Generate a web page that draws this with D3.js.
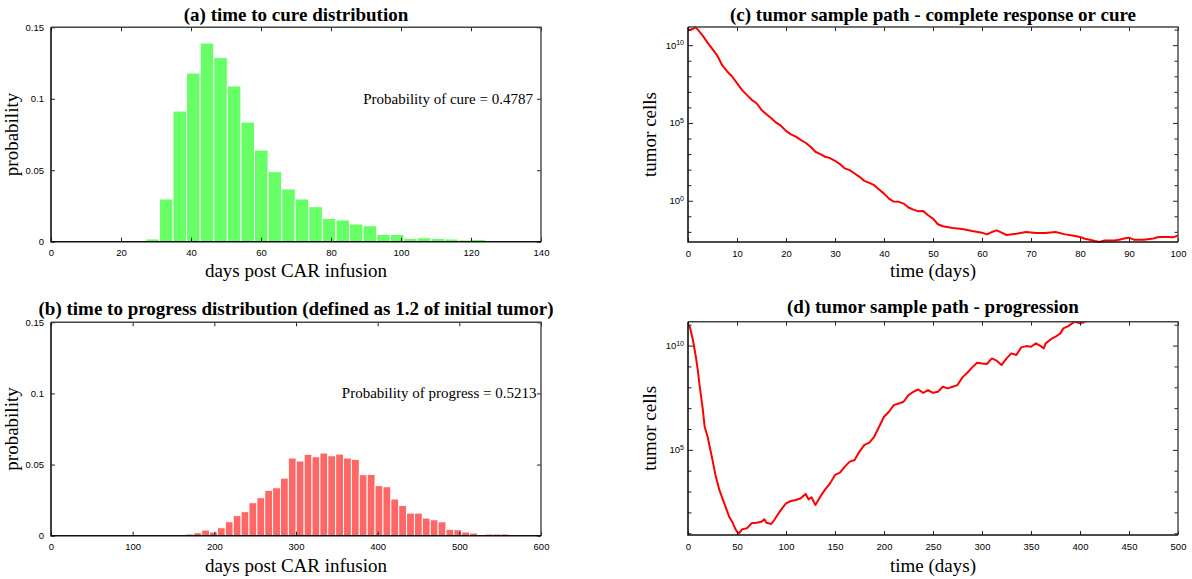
<!DOCTYPE html>
<html>
<head>
<meta charset="utf-8">
<script src="https://cdn.jsdelivr.net/npm/d3@7"></script>
<style>
  body { margin: 0; background: #fff; }
  .serif { font-family: "Liberation Serif", "Times New Roman", serif; fill: #000; }
  .tick text { font-family: "Liberation Sans", Arial, sans-serif; font-size: 9.5px; fill: #000; }
</style>
</head>
<body>
<svg id="chart" width="1192" height="579"></svg>
<script>
// ---- data ----
// (a) time to cure histogram
const cureBinStart = 27.1;
const cureBinWidth = 3.88;
const cureProb = [0.0019, 0.0299, 0.0914, 0.118, 0.139, 0.1288, 0.109, 0.0837, 0.0641, 0.049,
  0.0369, 0.0299, 0.0245, 0.0163, 0.0152, 0.0124, 0.0112, 0.0051, 0.0051, 0.0023,
  0.0028, 0.0023, 0.0019, 0.0012, 0.0016, 0.0005, 0.0005];

// (b) time to progress histogram
const progBinStart = 165.2;
const progBinWidth = 9.65;
const progProb = [0.0012, 0.0021, 0.004, 0.0026, 0.0056, 0.0098, 0.0141, 0.0169, 0.0232, 0.0267,
  0.0319, 0.0337, 0.0405, 0.0546, 0.0525, 0.0572, 0.0555, 0.0581, 0.0562, 0.0574,
  0.0546, 0.0537, 0.0429, 0.0431, 0.0352, 0.0344, 0.0258, 0.0213, 0.0159, 0.0159,
  0.0124, 0.0112, 0.0098, 0.0045, 0.0042, 0.0026, 0.0019, 0, 0.0012, 0.0012, 0.0012];

// (c) sample path, complete response (log10 of tumor cells)
const pathCDays = [0, 1, 1.5, 2, 3, 4, 5, 6, 7, 8, 9, 10, 11, 12, 13, 14, 15, 16, 17, 18, 19, 20,
  21, 22, 23, 24, 25, 26, 27, 28, 29, 30, 31, 32, 33, 34, 35, 36, 37, 38, 39, 40, 41, 42, 43, 44,
  45, 46, 47, 48, 49, 50, 51, 52, 54, 56, 58, 60, 61, 62, 63, 64, 65, 67, 69, 71, 73, 75, 77, 79,
  80, 81, 82, 83, 84, 85, 87, 88, 89, 90, 91, 93, 95, 96, 98, 99, 100];
const pathCLog10 = [10.99, 11.07, 11.2, 11.03, 10.65, 10.2, 9.78, 9.35, 8.73, 8.34, 8.02, 7.59,
  7.16, 6.84, 6.52, 6.3, 5.87, 5.59, 5.33, 5.05, 4.84, 4.52, 4.3, 4.15, 3.94, 3.76, 3.5, 3.18,
  3.03, 2.86, 2.77, 2.6, 2.39, 2.11, 2.0, 1.78, 1.57, 1.31, 1.18, 1.03, 0.75, 0.49, 0.17, -0.02,
  -0.04, -0.15, -0.4, -0.54, -0.65, -0.62, -0.9, -1.12, -1.48, -1.61, -1.72, -1.78, -1.91, -2.02,
  -2.13, -1.98, -1.87, -2.02, -2.17, -2.09, -1.98, -2.04, -2.04, -1.98, -2.13, -2.24, -2.3, -2.41,
  -2.47, -2.56, -2.62, -2.52, -2.52, -2.47, -2.39, -2.34, -2.47, -2.47, -2.39, -2.3, -2.3, -2.32, -2.19];

// (d) sample path, progression (log10 of tumor cells)
const pathDDays = [0, 2, 5, 8, 10, 12, 15, 17, 20, 25, 28, 32, 37, 42, 45, 48, 50, 52, 55, 60, 65,
  70, 75, 78, 80, 85, 88, 92, 96, 100, 105, 110, 115, 120, 123, 126, 130, 135, 140, 145, 150, 155,
  160, 165, 170, 175, 180, 185, 190, 195, 200, 205, 210, 215, 220, 225, 230, 235, 240, 245, 250,
  255, 260, 265, 270, 275, 280, 285, 290, 295, 300, 305, 310, 315, 320, 325, 330, 335, 340, 345,
  350, 355, 360, 363, 365, 370, 375, 380, 383, 388, 392, 395, 400, 402, 405];
const pathDLog10 = [11.04, 10.9, 10.29, 9.49, 8.85, 8.05, 7.01, 6.13, 5.65, 4.54, 3.82, 3.1, 2.46,
  1.82, 1.58, 1.26, 1.1, 1.02, 1.21, 1.26, 1.5, 1.53, 1.58, 1.69, 1.53, 1.47, 1.66, 1.95, 2.22,
  2.46, 2.57, 2.62, 2.7, 2.91, 2.65, 2.75, 2.38, 2.78, 3.13, 3.42, 3.82, 3.93, 4.22, 4.46, 4.54,
  4.94, 5.26, 5.37, 5.65, 6.13, 6.61, 6.85, 7.17, 7.25, 7.33, 7.65, 7.81, 7.92, 7.76, 7.89, 7.76,
  7.81, 8.05, 7.97, 8.05, 8.13, 8.5, 8.72, 8.98, 9.2, 9.17, 9.14, 9.41, 9.3, 9.09, 9.41, 9.65,
  9.57, 9.94, 10.0, 9.97, 10.13, 10.0, 9.89, 10.13, 10.32, 10.45, 10.61, 10.85, 10.96, 11.09,
  11.17, 11.09, 11.12, 11.15];

const cureNote = 'Probability of cure = 0.4787';
const progNote = 'Probability of progress = 0.5213';

// ---- drawing ----
const svg = d3.select('#chart');
const green = '#66ff66';
const red = '#ff6666';

function frame(g, p) {
  // grey top/right, black left/bottom
  g.append('path')
    .attr('d', `M${p.x0},${p.y0}H${p.x1}V${p.y1}`)
    .attr('fill', 'none').attr('stroke', '#444').attr('stroke-width', 1.4);
  g.append('path')
    .attr('d', `M${p.x0},${p.y0}V${p.y1}H${p.x1}`)
    .attr('fill', 'none').attr('stroke', '#111').attr('stroke-width', 1.6);
}

function xAxes(g, p, x, ticks) {
  g.append('g')
    .attr('transform', `translate(0,${p.y1})`)
    .call(d3.axisBottom(x).tickValues(ticks).tickSizeInner(-4).tickSizeOuter(0).tickPadding(8).tickFormat(d3.format('d')))
    .call(a => a.select('.domain').remove())
    .attr('font-size', null).attr('font-family', null);
  g.append('g')
    .attr('transform', `translate(0,${p.y0})`)
    .call(d3.axisTop(x).tickValues(ticks).tickSizeInner(-4).tickSizeOuter(0).tickFormat(''))
    .call(a => a.select('.domain').remove());
}

function titles(g, p, title, titleY, xLabel, xLabelY, yLabel, yLabelX) {
  const cx = (p.x0 + p.x1) / 2;
  g.append('text').attr('class', 'serif')
    .attr('x', cx).attr('y', titleY)
    .attr('text-anchor', 'middle')
    .style('font-size', '19px').style('font-weight', 'bold')
    .text(title);
  g.append('text').attr('class', 'serif')
    .attr('x', cx).attr('y', xLabelY)
    .attr('text-anchor', 'middle')
    .style('font-size', '19px')
    .text(xLabel);
  g.append('text').attr('class', 'serif')
    .attr('transform', `translate(${yLabelX},${(p.y0 + p.y1) / 2}) rotate(-90)`)
    .attr('text-anchor', 'middle')
    .style('font-size', '19px')
    .text(yLabel);
}

function histPanel(p, opt) {
  const g = svg.append('g');
  const x = d3.scaleLinear().domain(opt.xDomain).range([p.x0, p.x1]);
  const y = d3.scaleLinear().domain([0, 0.15]).range([p.y1, p.y0]);

  g.append('g').selectAll('rect')
    .data(opt.values)
    .join('rect')
    .attr('x', (d, i) => x(opt.start + i * opt.width))
    .attr('width', (d, i) => x(opt.start + (i + 1) * opt.width) - x(opt.start + i * opt.width))
    .attr('y', d => y(d))
    .attr('height', d => y(0) - y(d))
    .attr('fill', opt.color)
    .attr('stroke', '#fff')
    .attr('stroke-width', 1);

  xAxes(g, p, x, opt.xTicks);
  const yTicks = [0, 0.05, 0.1, 0.15];
  g.append('g')
    .attr('transform', `translate(${p.x0},0)`)
    .call(d3.axisLeft(y).tickValues(yTicks).tickSizeInner(-4).tickSizeOuter(0).tickPadding(7).tickFormat(d => String(d)))
    .call(a => a.select('.domain').remove())
    .attr('font-size', null).attr('font-family', null);
  g.append('g')
    .attr('transform', `translate(${p.x1},0)`)
    .call(d3.axisRight(y).tickValues(yTicks).tickSizeInner(-4).tickSizeOuter(0).tickFormat(''))
    .call(a => a.select('.domain').remove());

  frame(g, p);

  g.append('text').attr('class', 'serif')
    .attr('x', x(opt.noteX)).attr('y', y(0.1))
    .attr('dy', '0.32em')
    .attr('text-anchor', 'end')
    .style('font-size', '15px')
    .text(opt.note);

  titles(g, p, opt.title, opt.titleY, 'days post CAR infusion', opt.xLabelY, 'probability', 18);
  g.selectAll('.tick line').attr('stroke', '#222');
}

function pathPanel(p, opt) {
  const g = svg.append('g');
  const x = d3.scaleLinear().domain(opt.xDomain).range([p.x0, p.x1]);
  const y = d3.scaleLog().domain(opt.yDomain.map(e => Math.pow(10, e))).range([p.y1, p.y0]);

  const clipId = 'clip-' + opt.id;
  g.append('clipPath').attr('id', clipId)
    .append('rect')
    .attr('x', p.x0).attr('y', p.y0 - 1)
    .attr('width', p.x1 - p.x0).attr('height', p.y1 - p.y0 + 2);

  const pts = opt.days.map((t, i) => ({ t: t, v: Math.pow(10, opt.logs[i]) }));
  g.append('path')
    .datum(pts)
    .attr('clip-path', `url(#${clipId})`)
    .attr('fill', 'none')
    .attr('stroke', '#ff0000')
    .attr('stroke-width', 2)
    .attr('stroke-linejoin', 'round')
    .attr('d', d3.line().x(d => x(d.t)).y(d => y(d.v)));

  xAxes(g, p, x, opt.xTicks);

  // decade ticks, labels every 5 decades
  const decades = d3.range(Math.ceil(opt.yDomain[0]), Math.floor(opt.yDomain[1]) + 1);
  const tickG = g.append('g');
  decades.forEach(e => {
    const yy = y(Math.pow(10, e));
    const len = e % 5 === 0 ? 5 : 3.5;
    tickG.append('line').attr('x1', p.x0).attr('x2', p.x0 + len).attr('y1', yy).attr('y2', yy)
      .attr('stroke', '#222');
    tickG.append('line').attr('x1', p.x1).attr('x2', p.x1 - len).attr('y1', yy).attr('y2', yy)
      .attr('stroke', '#222');
    if (e % 5 === 0) {
      const t = tickG.append('text')
        .attr('x', p.x0 - 4).attr('y', yy).attr('dy', '0.32em')
        .attr('text-anchor', 'end')
        .style('font-family', '"Liberation Sans", Arial, sans-serif')
        .style('font-size', '9.5px');
      t.append('tspan').text('10');
      t.append('tspan').attr('dy', '-0.5em').style('font-size', '7px').text(String(e));
    }
  });

  frame(g, p);
  titles(g, p, opt.title, opt.titleY, 'time (days)', opt.xLabelY, 'tumor cells', 656);
  g.selectAll('.tick line').attr('stroke', '#222');
}

histPanel({ x0: 51, x1: 541, y0: 27.3, y1: 241.7 }, {
  xDomain: [0, 140], xTicks: d3.range(0, 141, 20),
  start: cureBinStart, width: cureBinWidth, values: cureProb, color: green,
  note: cureNote, noteX: 137.7,
  title: '(a) time to cure distribution', titleY: 21, xLabelY: 277
});

histPanel({ x0: 51, x1: 541, y0: 322.3, y1: 535.7 }, {
  xDomain: [0, 600], xTicks: d3.range(0, 601, 100),
  start: progBinStart, width: progBinWidth, values: progProb, color: red,
  note: progNote, noteX: 594.5,
  title: '(b) time to progress distribution (defined as 1.2 of initial tumor)', titleY: 315, xLabelY: 572
});

pathPanel({ x0: 688, x1: 1178, y0: 27, y1: 242 }, {
  id: 'c', xDomain: [0, 100], xTicks: d3.range(0, 101, 10), yDomain: [-2.62, 11.2],
  days: pathCDays, logs: pathCLog10,
  title: '(c) tumor sample path - complete response or cure', titleY: 21, xLabelY: 277
});

pathPanel({ x0: 688, x1: 1178, y0: 321.7, y1: 535 }, {
  id: 'd', xDomain: [0, 500], xTicks: d3.range(0, 501, 50), yDomain: [0.94, 11.17],
  days: pathDDays, logs: pathDLog10,
  title: '(d) tumor sample path - progression', titleY: 313, xLabelY: 572
});
</script>
</body>
</html>
